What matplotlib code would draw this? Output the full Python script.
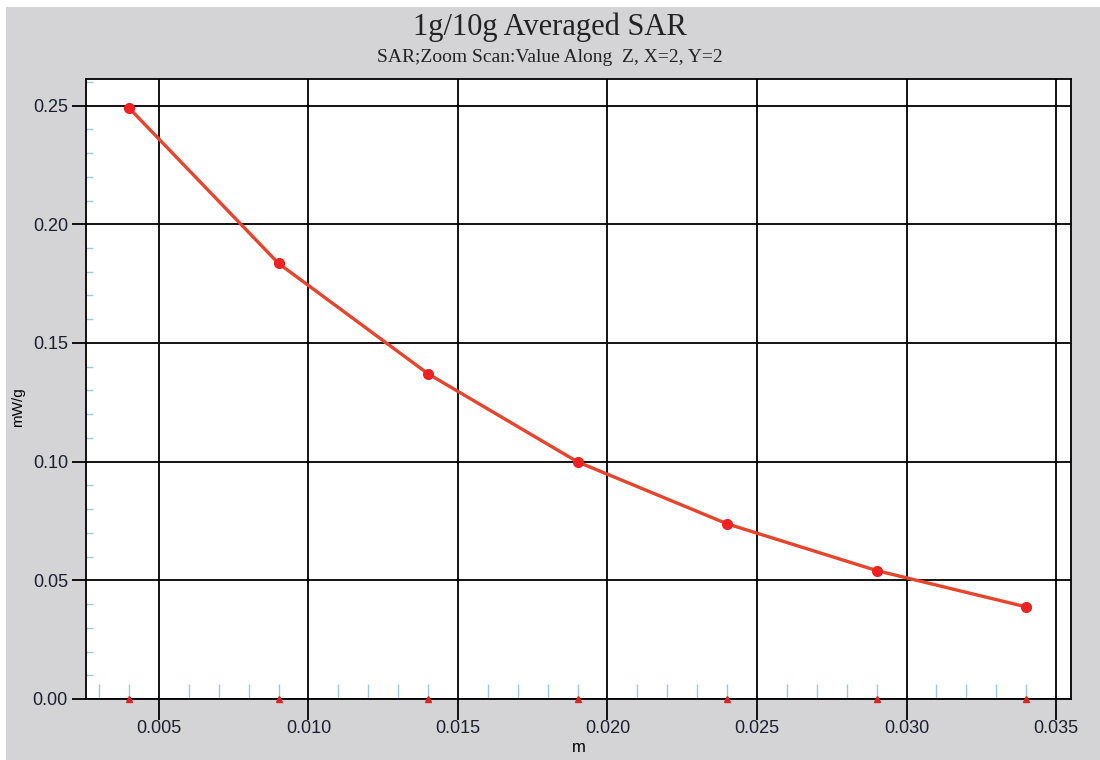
import matplotlib
matplotlib.use("Agg")
import matplotlib.pyplot as plt
from matplotlib.patches import Rectangle
from matplotlib.ticker import MultipleLocator, FormatStrFormatter

# 数据
depth_m = [0.004, 0.009, 0.014, 0.019, 0.024, 0.029, 0.034]
sar_mw_g = [0.249, 0.1835, 0.137, 0.0999, 0.0738, 0.0541, 0.0388]

x_ticks = [0.005, 0.010, 0.015, 0.020, 0.025, 0.030, 0.035]
y_ticks = [0.00, 0.05, 0.10, 0.15, 0.20, 0.25]

title = "1g/10g Averaged SAR"
subtitle = "SAR;Zoom Scan:Value Along  Z, X=2, Y=2"

bg = "#d4d4d6"
plt.rcParams['font.family'] = ['Liberation Sans', 'DejaVu Sans']

fig = plt.figure(figsize=(11, 7.6), dpi=100, facecolor="white")
# 灰色底板（左上留一点白边），放在最底层
fig.patches.append(Rectangle((6 / 1100, 0), 1 - 6 / 1100, 1 - 7 / 760,
                             transform=fig.transFigure, facecolor=bg,
                             edgecolor="none", zorder=-10))

ax = fig.add_axes([0.0782, 0.0803, 0.8954, 0.8157])
ax.set_facecolor("white")

ax.plot(depth_m, sar_mw_g, color="#e8442c", lw=2.4, zorder=3)
ax.plot(depth_m, sar_mw_g, ls="none", marker="o", ms=7, color="#ee2222", zorder=4)
# 底部数据位置的小红三角
ax.plot(depth_m, [0] * len(depth_m), ls="none", marker="^", ms=4,
        color="#dd2222", clip_on=False, zorder=5)

ax.set_xlim(0.00256, 0.0355)
ax.set_ylim(0, 0.2612)
ax.set_xticks(x_ticks)
ax.set_yticks(y_ticks)
ax.xaxis.set_major_formatter(FormatStrFormatter("%.3f"))
ax.yaxis.set_major_formatter(FormatStrFormatter("%.2f"))
ax.xaxis.set_minor_locator(MultipleLocator(0.001))
ax.yaxis.set_minor_locator(MultipleLocator(0.01))

ax.grid(True, which="major", color="black", lw=1.3, zorder=1)
ax.set_axisbelow(True)
for s in ax.spines.values():
    s.set_color("black")
    s.set_linewidth(1.3)

ax.tick_params(axis="both", which="major", direction="out", color="black",
               width=1.3, labelsize=13, labelcolor="#1a2030")
ax.tick_params(axis="x", which="major", length=15, pad=0.5)
ax.tick_params(axis="y", which="major", length=10, pad=3)
ax.tick_params(axis="x", which="minor", direction="in", length=11,
               color="#9cc8e0", width=1)
ax.tick_params(axis="y", which="minor", direction="in", length=5,
               color="#9cc8e0", width=1)

ax.set_xlabel("m", fontsize=12, labelpad=2)
ax.set_ylabel("mW/g", fontsize=11)
ax.yaxis.set_label_coords(-0.062, 0.47)

fig.text(0.5, 0.984, title, ha="center", va="top", fontsize=22,
         family=["Liberation Serif", "DejaVu Serif"], color="#222222")
fig.text(0.5, 0.935, subtitle, ha="center", va="top", fontsize=14,
         family=["Liberation Serif", "DejaVu Serif"], color="#222222")

plt.savefig("out.png", dpi=100, facecolor="white")
plt.close()
